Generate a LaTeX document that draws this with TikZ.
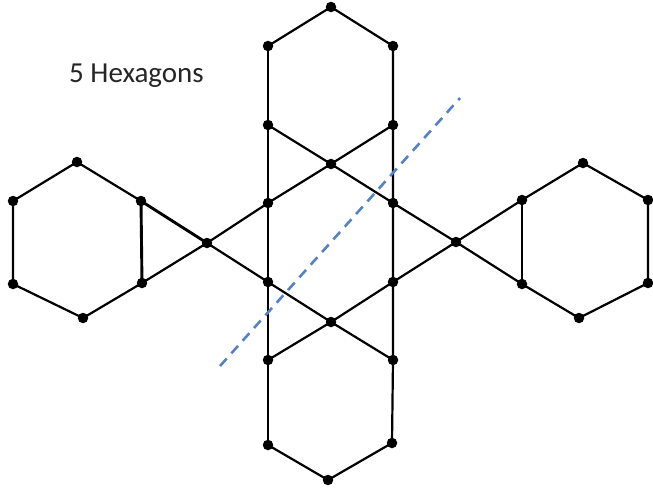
\documentclass[tikz,border=0pt]{standalone}
\usepackage{fontspec}
\setmainfont{Carlito}
\begin{document}
\begin{tikzpicture}[x=1pt,y=-1pt,
  edge/.style={line width=2.2pt,black},
  thick edge/.style={line width=2.9pt,black},
  dot/.style={circle,fill=black,inner sep=0pt,minimum size=10.5pt},
  cut/.style={line width=2.6pt,color=cutblue,dash pattern=on 10pt off 7pt},
  label/.style={font=\fontsize{29}{34}\selectfont,text=black!85,anchor=base west,inner sep=0pt}]
\definecolor{cutblue}{RGB}{84,130,196}
\useasboundingbox (0,0) rectangle (653,491);
% top hexagon
\coordinate (t1) at (331,7);
\coordinate (t2) at (268,46);
\coordinate (t3) at (393,46);
\coordinate (t4) at (268,125);
\coordinate (t5) at (393,125);
% centre hexagon
\coordinate (c1) at (331,164);
\coordinate (c2) at (268,203);
\coordinate (c3) at (393,203);
\coordinate (c4) at (268,282);
\coordinate (c5) at (393,282);
\coordinate (c6) at (331,322);
% bottom hexagon
\coordinate (b2) at (268,360);
\coordinate (b3) at (393,360);
\coordinate (b4) at (268,445);
\coordinate (b5) at (392,443);
\coordinate (b6) at (328,480);
% left
\coordinate (l0) at (207,243);
\coordinate (L1) at (77,162);
\coordinate (L2) at (13,201);
\coordinate (L3) at (13,284);
\coordinate (L4) at (83,318);
\coordinate (L5) at (142,283);
\coordinate (L6) at (141,201);
% right
\coordinate (r0) at (456,242);
\coordinate (R1) at (522,200);
\coordinate (R2) at (583,163);
\coordinate (R3) at (648,200);
\coordinate (R4) at (648,283);
\coordinate (R5) at (579,318);
\coordinate (R6) at (522,284);
% dashed cut
\coordinate (d1) at (220,366);
\coordinate (d2) at (460,98);

% edges
\draw[edge] (t2) -- (t1) -- (t3);
\draw[edge] (t2) -- (t4) -- (c2) -- (c4) -- (b2) -- (b4);
\draw[edge] (t3) -- (t5) -- (c3) -- (c5) -- (b3) -- (b5);
\draw[edge] (b4) -- (b6) -- (b5);
\draw[edge] (t4) -- (c1) -- (c3) -- (r0) -- (R6);
\draw[edge] (t5) -- (c1) -- (c2) -- (l0) -- (L5);
\draw[edge] (l0) -- (c4) -- (c6) -- (b3);
\draw[thick edge] (L6) -- (l0);
\draw[edge] (R1) -- (r0);
\draw[edge] (r0) -- (c5) -- (c6) -- (b2);
\draw[edge] (L6) -- (L1) -- (L2) -- (L3) -- (L4) -- (L5);
\draw[thick edge] (L5) -- (L6);
\draw[edge] (R1) -- (R2) -- (R3) -- (R4) -- (R5) -- (R6);
\draw[thick edge] (R6) -- (R1);

\draw[cut] (d1) -- (d2);

% vertices
\foreach \p in {t1,t2,t3,t4,t5,c1,c2,c3,c4,c5,c6,b2,b3,b4,b5,b6,l0,L1,L2,L3,L4,L5,L6,r0,R1,R2,R3,R4,R5,R6}
  \node[dot] (n\p) at (\p) {};

\node[label] (title) at (69,82) {5 Hexagons};
\end{tikzpicture}
\end{document}
